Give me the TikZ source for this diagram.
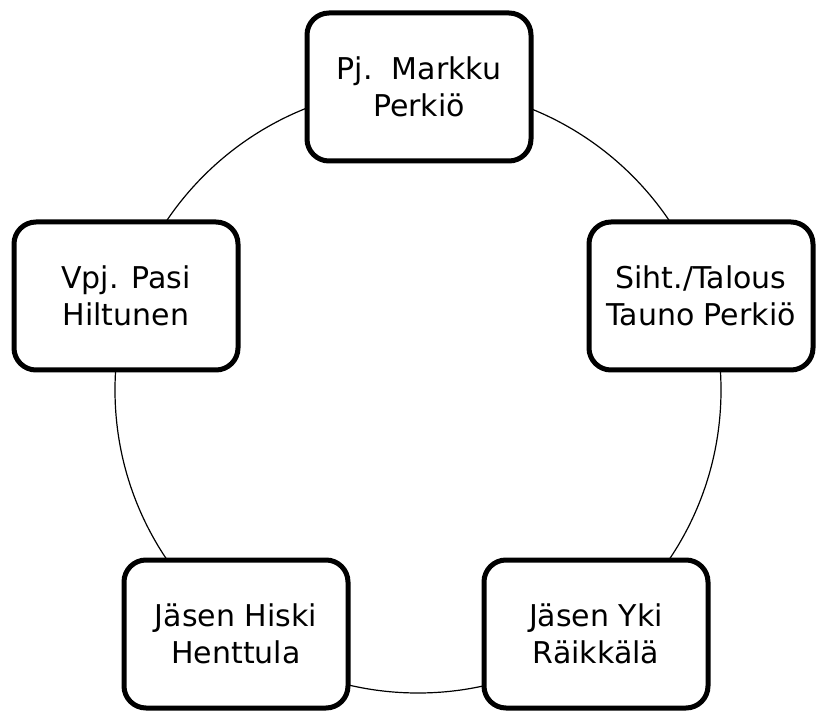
\documentclass[tikz,border=0pt]{standalone}
\usepackage{fontspec}
\setmainfont{DejaVu Sans}
\usetikzlibrary{positioning}
\tikzstyle{ring} = [circle, draw=black, line width=1.2pt, minimum size=606pt, inner sep=0pt]
\tikzstyle{member} = [rectangle, rounded corners=22pt, draw=black, line width=5pt, fill=white, minimum width=224pt, minimum height=148pt, align=center, font=\fontsize{30}{37}\selectfont]

\begin{document}
\begin{tikzpicture}[x=1pt, y=1pt]
\useasboundingbox (0,0) rectangle (817,713);

% Cycle
\node (cycle) [ring] at (418,323) {};

% Board
\node (chair) [member] at (419,626) {Pj.\ \ Markku\\Perkiö};
\node (secretary) [member] at (701,417) {Siht./Talous\\Tauno Perkiö};
\node (vicechair) [member] at (126,417) {Vpj. Pasi\\Hiltunen};
\node (member_yki) [member] at (596,79) {Jäsen Yki\\Räikkälä};
\node (member_hiski) [member] at (236,79) {Jäsen Hiski\\Henttula};

\end{tikzpicture}
\end{document}
